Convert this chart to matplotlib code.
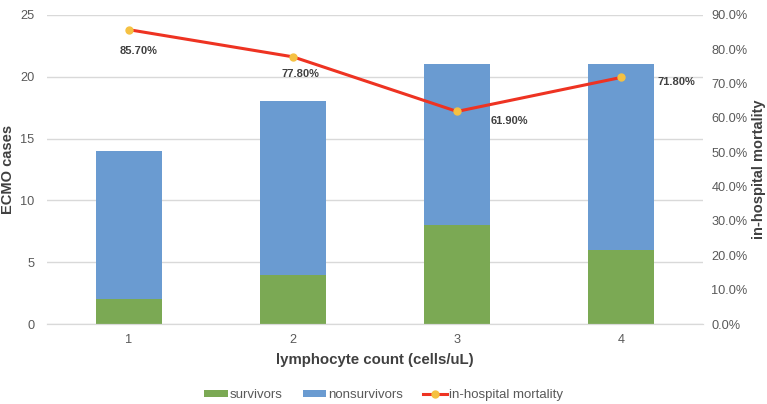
import numpy as np
import matplotlib.pyplot as plt
from matplotlib.ticker import PercentFormatter

# data
categorias = ['1', '2', '3', '4']
sobreviventes = np.array([2, 4, 8, 6])
nao_sobreviventes = np.array([12, 14, 13, 15])
mortalidade = np.array([0.857, 0.778, 0.619, 0.718])
rotulos = ['85.70%', '77.80%', '61.90%', '71.80%']

plt.rcParams['font.family'] = ['Liberation Sans', 'DejaVu Sans']

fig = plt.figure(figsize=(7.67, 4.04), dpi=100)
ax = fig.add_axes([0.0613, 0.198, 0.8553, 0.765])
ax2 = ax.twinx()

x = np.arange(1, len(categorias) + 1)
largura = 0.4
b1 = ax.bar(x, sobreviventes, largura, color='#7BA954', label='survivors', zorder=2)
b2 = ax.bar(x, nao_sobreviventes, largura, bottom=sobreviventes, color='#6A9BD1',
            label='nonsurvivors', zorder=2)

ax.set_xlim(0.5, 4.5)
ax.set_ylim(0, 25)
ax.set_yticks(np.arange(0, 26, 5))
ax.set_xticks(x)
ax.set_xticklabels(categorias)
ax.yaxis.grid(True, color='#D9D9D9', linewidth=1, zorder=0)
ax.set_axisbelow(True)

for a in (ax, ax2):
    for s in ['top', 'left', 'right']:
        a.spines[s].set_visible(False)
    a.spines['bottom'].set_color('#D9D9D9')
    a.tick_params(length=0, labelsize=9.2, labelcolor='#595959')
ax.tick_params(axis='x', pad=7)
ax.tick_params(axis='y', pad=9)
ax2.tick_params(axis='y', pad=6)

ax2.set_ylim(0, 0.9)
ax2.set_yticks(np.arange(0, 0.91, 0.1))
ax2.yaxis.set_major_formatter(PercentFormatter(1.0, decimals=1))
linha, = ax2.plot(x, mortalidade, color='#EE3322', linewidth=2.2, marker='o',
                  markersize=5, markerfacecolor='#F5C142', markeredgecolor='#F5C142',
                  label='in-hospital mortality', zorder=3)

# data labels around markers
offsets = [(7, -15), (5, -12), (24, -7), (26, -3.5)]
alinhar = ['center', 'center', 'left', 'left']
for xi, yi, txt, off, ha in zip(x, mortalidade, rotulos, offsets, alinhar):
    ax2.annotate(txt, xy=(xi, yi), xytext=off, textcoords='offset points',
                 ha=ha, va='center', fontsize=8, fontweight='bold', color='#404040')

ax.set_xlabel('lymphocyte count (cells/uL)', fontsize=10.8, fontweight='bold',
              color='#404040', labelpad=5)
ax.set_ylabel('ECMO cases', fontsize=10.5, fontweight='bold', color='#404040',
              va='center')
ax.yaxis.set_label_coords(-0.059, 0.5)
ax2.set_ylabel('in-hospital mortality', fontsize=10.5, fontweight='bold',
               color='#404040', va='center', rotation=90)
ax2.yaxis.set_label_coords(1.085, 0.5)

fig.legend(handles=[b1, b2, linha], loc='center', bbox_to_anchor=(0.5, 0.022), ncol=3,
           frameon=False, fontsize=9.5, labelcolor='#595959', handlelength=1.8,
           handleheight=0.45, columnspacing=1.5, handletextpad=0.15)

fig.savefig('out.png', dpi=100)
